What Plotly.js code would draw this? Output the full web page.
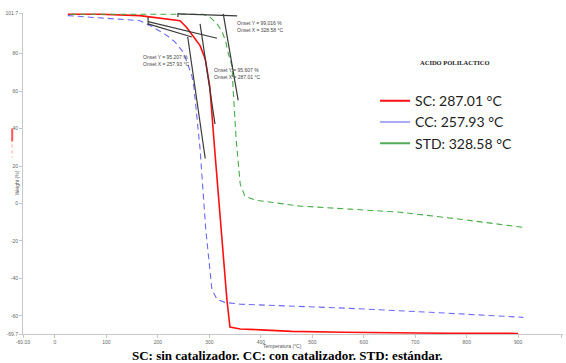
<!DOCTYPE html>
<html><head><meta charset="utf-8">
<script src="https://cdn.plot.ly/plotly-3.0.1.min.js"></script>
<style>html,body{margin:0;padding:0;background:#fff}#chart{width:566px;height:363px}</style>
</head><body><div id="chart"></div>
<script>
// SC (sin catalizador)
const scTemp = [25, 87, 165, 243, 256, 268, 282, 292, 297, 301, 310, 319, 334, 340, 360, 400, 460, 560, 660, 760, 900];
const scWeight = [101, 101, 100.3, 97.6, 94, 89.6, 84.3, 77.2, 68.2, 62.2, 30, 0, -51, -66, -67, -67.5, -68.3, -68.8, -69.1, -69.3, -69.4];
// CC (con catalizador)
const ccTemp = [25, 113, 165, 190, 218, 233, 249, 258, 266, 270, 282, 293, 305, 315, 330, 360, 476, 573, 729, 910];
const ccWeight = [100.3, 98.6, 97.6, 94.3, 89.6, 86.3, 80.9, 74.5, 68.2, 62.2, 29.0, -13.8, -45.9, -51.2, -52.8, -53.8, -54.9, -56, -58.1, -60.8];
// STD (estándar)
const stdTemp = [30, 165, 288, 301, 315, 325, 332, 336, 344, 346, 352, 360, 369, 389, 476, 573, 671, 787, 908];
const stdWeight = [101, 101.2, 101, 99.5, 95.9, 91.6, 86.3, 80.9, 73.4, 62.2, 34.4, 10.3, 3.9, 1.8, -1.4, -3.0, -4.7, -8.4, -12.7];

const legendNames = ["SC: 287.01 °C", "CC: 257.93 °C", "STD: 328.58 °C"];
const seriesColors = ["#ff1010", "#6a6af5", "#46ad46"];
const legendColors = ["#ff1010", "#a9a9f5", "#55aa55"];

// onset tangent segments [T0, W0, T1, W1]
const tangents = [
  [239, 101.2, 354, 100.2],
  [327, 101.2, 356, 55],
  [181, 97.1, 315, 88.2],
  [282, 95.9, 311, 42.4],
  [181, 95.9, 266, 88.9],
  [258, 88.9, 292, 24]
];
const onsetTicks = [[239, 99.5, 239, 103], [181, 95.2, 181, 99.5]];
const onsetLabels = [
  {T: 350, W: 94.5, text: "Onset Y = 99.016 %<br>Onset X = 328.58 °C"},
  {T: 168, W: 76.5, text: "Onset Y = 95.207 %<br>Onset X = 257.93 °C"},
  {T: 306, W: 69.5, text: "Onset Y = 95.607 %<br>Onset X = 287.01 °C"}
];

const xTickVals = [-62, 0, 100, 200, 300, 400, 500, 600, 700, 800, 900, 985];
const xTickText = ["-60.03", "0", "100", "200", "300", "400", "500", "600", "700", "800", "900", "985.4"];
const yTickVals = [-69.7, -60, -40, -20, 0, 20, 40, 60, 80, 101.7];
const yTickText = ["-69.7", "-60", "-40", "-20", "0", "20", "40", "60", "80", "101.7"];

const traces = [
  {x: scTemp, y: scWeight, mode: "lines", line: {color: seriesColors[0], width: 1.6}, showlegend: false},
  {x: ccTemp, y: ccWeight, mode: "lines", line: {color: seriesColors[1], width: 1.1, dash: "6px,4px"}, showlegend: false},
  {x: stdTemp, y: stdWeight, mode: "lines", line: {color: seriesColors[2], width: 1.1, dash: "6px,4px"}, showlegend: false}
];
legendNames.forEach((n, i) => traces.push({x: [null], y: [null], mode: "lines", name: n,
  line: {color: legendColors[i], width: 2}, showlegend: true}));

const shapes = [];
tangents.concat(onsetTicks).forEach(s => shapes.push({type: "line", xref: "x", yref: "y",
  x0: s[0], y0: s[1], x1: s[2], y1: s[3], line: {color: "#3a3a3a", width: 1.2}}));
shapes.push({type: "line", xref: "paper", yref: "paper", x0: -0.02, x1: -0.02, y0: 0.64, y1: 0.60, line: {color: "#ff5555", width: 2}});
shapes.push({type: "line", xref: "paper", yref: "paper", x0: -0.02, x1: -0.02, y0: 0.59, y1: 0.55, line: {color: "#ffcccc", width: 2, dash: "dot"}});

const annotations = onsetLabels.map(a => ({x: a.T, y: a.W, xref: "x", yref: "y", text: a.text, showarrow: false,
  xanchor: "left", align: "left", font: {family: "Liberation Sans", size: 5, color: "#444"}}));
annotations.push({xref: "paper", yref: "paper", x: 0.80, y: 0.847, xanchor: "center", yanchor: "middle",
  text: "<b>ACIDO POLILACTICO</b>", showarrow: false,
  font: {family: "Liberation Serif", size: 6.5, color: "#222"}});
annotations.push({xref: "paper", yref: "paper", x: 0.481, y: -0.022, xanchor: "center", yanchor: "top",
  text: "Temperatura (°C)", showarrow: false,
  font: {family: "Liberation Sans", size: 5, color: "#555"}});
annotations.push({xref: "paper", yref: "paper", x: -0.02, y: 0.47, text: "Weight (%)", textangle: -90, showarrow: false,
  font: {family: "Liberation Sans", size: 5, color: "#555"}});
annotations.push({xref: "paper", yref: "paper", x: 0.489, y: -0.067, xanchor: "center", yanchor: "middle",
  text: "<b>SC: sin catalizador. CC: con catalizador. STD: estándar.</b>", showarrow: false,
  font: {family: "Liberation Serif", size: 13, color: "#000"}});

const layout = {
  width: 566, height: 363,
  margin: {l: 23, r: 3, t: 13, b: 29},
  paper_bgcolor: "#fff", plot_bgcolor: "#fff",
  showlegend: true,
  legend: {x: 0.652, y: 0.775, xanchor: "left", yanchor: "top", bgcolor: "rgba(0,0,0,0)",
    font: {family: "Lato", size: 14, color: "#222"}, itemwidth: 30},
  xaxis: {range: [-62, 987], showgrid: false, zeroline: false, showline: true, linecolor: "#c8c8c8", linewidth: 1,
    ticks: "outside", ticklen: 3, tickcolor: "#c8c8c8", tickvals: xTickVals, ticktext: xTickText,
    tickfont: {family: "Liberation Sans", size: 5, color: "#666"}},
  yaxis: {range: [-69.7, 101.7], showgrid: false, zeroline: false, showline: true, linecolor: "#c8c8c8", linewidth: 1,
    ticks: "outside", ticklen: 3, tickcolor: "#c8c8c8", tickvals: yTickVals, ticktext: yTickText,
    tickfont: {family: "Liberation Sans", size: 5, color: "#666"}},
  shapes: shapes,
  annotations: annotations
};
Plotly.newPlot("chart", traces, layout, {displayModeBar: false, staticPlot: true});
</script></body></html>
